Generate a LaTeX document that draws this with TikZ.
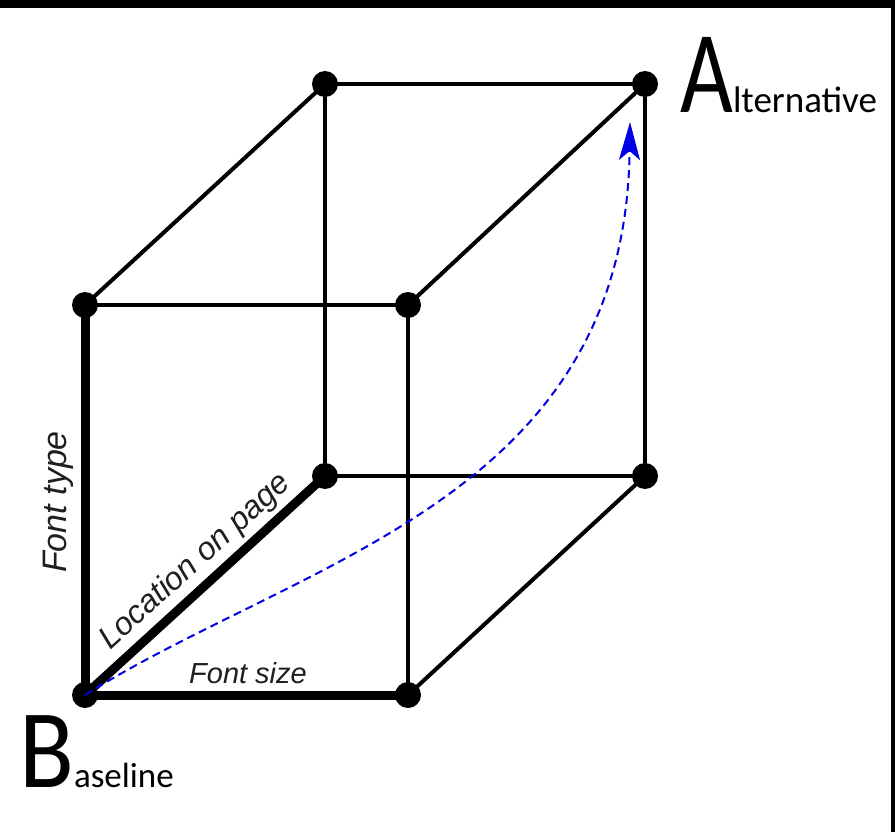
\documentclass[tikz,border=0pt]{standalone}
\usepackage{fontspec}
\setmainfont{Liberation Sans}
\newfontfamily\calib{Carlito}
\usetikzlibrary{arrows.meta}
\begin{document}
\begin{tikzpicture}[x=1pt,y=-1pt,
 dot/.style={circle,fill=black,inner sep=0pt,minimum size=26pt},
 edge/.style={line width=4pt, shorten <=-2pt, shorten >=-2pt},
 bold/.style={line width=9pt, shorten <=-2pt, shorten >=-2pt},
 lab/.style={font=\itshape, inner sep=0pt, text=black!88},
 big/.style={font=\calib, inner sep=0pt, text=black},
 route/.style={blue!90!black, line width=2pt, dash pattern=on 8pt off 5pt,
   -{Stealth[length=38pt,width=21pt,inset=9pt]}}
]
\fill[white] (0,0) rectangle (895,832);
\useasboundingbox (0,0) rectangle (895,832);
\fill[black] (0,0) rectangle (895,8);
\fill[black] (891,0) rectangle (895,832);

% vertices
\node[dot] (B)   at (85,695)  {};
\node[dot] (FTL) at (85,305)  {};
\node[dot] (FTR) at (408,305) {};
\node[dot] (FBR) at (408,695) {};
\node[dot] (BTL) at (325,84)  {};
\node[dot] (A)   at (645,84)  {};
\node[dot] (BBL) at (325,476) {};
\node[dot] (BBR) at (645,476) {};

% thin edges
\draw[edge] (FTL) -- (FTR);
\draw[edge] (FTR) -- (FBR);
\draw[edge] (BTL) -- (A);
\draw[edge] (A) -- (BBR);
\draw[edge] (BBR) -- (BBL);
\draw[edge] (BBL) -- (BTL);
\draw[edge] (FTL) -- (BTL);
\draw[edge] (FTR) -- (A);
\draw[edge] (FBR) -- (BBR);
% bold edges
\draw[bold] (B) -- (FTL);
\draw[bold] (B) -- (FBR);
\draw[bold] (B) -- (BBL);

% labels
\node[lab, font=\itshape\fontsize{34}{34}\selectfont, rotate=90, anchor=center] (ftype) at (58,502) {Font type};
\node[lab, font=\itshape\fontsize{29}{29}\selectfont, anchor=base] (fsize) at (248,683) {Font size};
\node[lab, font=\itshape\fontsize{32}{32}\selectfont, rotate=42.2, anchor=base] (loc) at (201,568) {Location on page};

% big letters
\node[big, anchor=base west] (alt) at (680,113) {\scalebox{0.78}[1]{\fontsize{117}{117}\selectfont A}{\fontsize{37}{37}\selectfont lternative}};
\node[big, anchor=base west] (base) at (19,787) {\scalebox{0.9}[1]{\fontsize{112}{112}\selectfont B}{\fontsize{35}{35}\selectfont aseline}};

% dashed route
\coordinate (tip) at (630,122);
\draw[route] (B.center) .. controls (300,560) and (625,500) .. (tip);
\end{tikzpicture}
\end{document}
